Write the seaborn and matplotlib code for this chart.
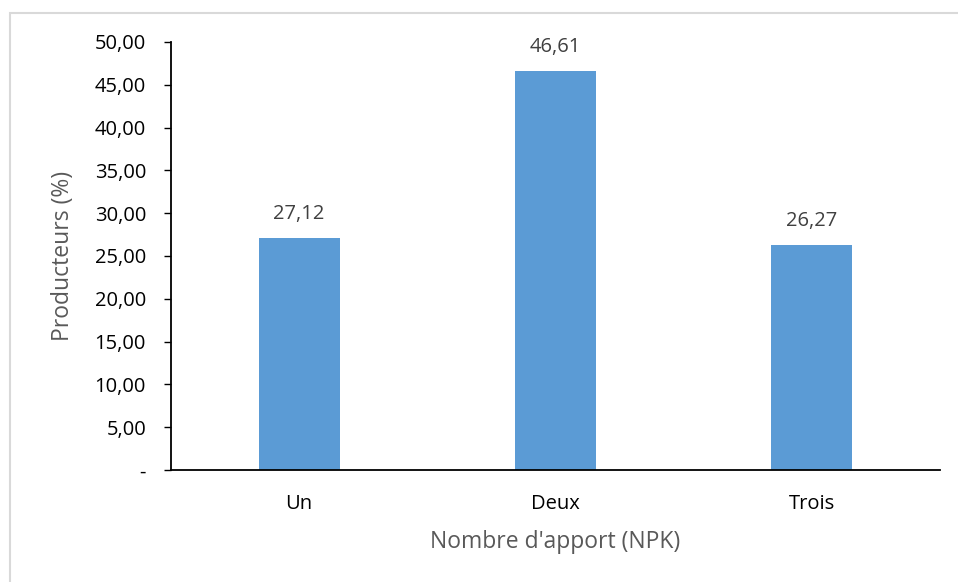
import matplotlib
matplotlib.use("Agg")
import matplotlib.pyplot as plt
import seaborn as sns
import pandas as pd
from matplotlib.patches import Rectangle
from matplotlib.ticker import FuncFormatter

categories = ["Un", "Deux", "Trois"]
values = [27.12, 46.61, 26.27]
yticks = [0, 5, 10, 15, 20, 25, 30, 35, 40, 45, 50]

sns.set_style("white")
plt.rcParams['font.family'] = ['Open Sans', 'DejaVu Sans']

df = pd.DataFrame({"cat": categories, "val": values})

fig = plt.figure(figsize=(9.58, 5.82), dpi=100)
ax = fig.add_axes([171/958, (582-470)/582, (940-171)/958, (470-42)/582])

sns.barplot(data=df, x="cat", y="val", color="#5B9BD5", saturation=1,
            width=0.316, ax=ax, edgecolor="none")

ax.set_xlim(-0.5, 2.5)
ax.set_ylim(0, 50)
ax.set_yticks(yticks)

def fmt(v, pos):
    if abs(v) < 1e-9:
        return "-"
    return f"{v:.2f}".replace(".", ",")

ax.yaxis.set_major_formatter(FuncFormatter(fmt))
ax.tick_params(axis="y", which="major", length=5, width=1, color="black",
               labelsize=14.5, labelcolor="black", pad=13, direction="out", left=True)
ax.tick_params(axis="x", length=0, labelsize=14.5, labelcolor="black", pad=17)

for s in ["top", "right"]:
    ax.spines[s].set_visible(False)
for s in ["left", "bottom"]:
    ax.spines[s].set_color("black")
    ax.spines[s].set_linewidth(1.3)

ax.set_xlabel("Nombre d'apport (NPK)", fontsize=16.5, color="#595959", labelpad=12)
ax.set_ylabel("Producteurs (%)", fontsize=16.5, color="#595959", labelpad=14)

for i, v in enumerate(values):
    ax.annotate(f"{v:.2f}".replace(".", ","), (i, v), xytext=(0, 10),
                textcoords="offset points", ha="center", va="bottom",
                fontsize=14.5, color="#404040")

fig.patches.append(Rectangle((9.5/958, -0.05), 1.2, (582-12.5)/582 + 0.05,
                             transform=fig.transFigure, fill=False,
                             edgecolor="#D9D9D9", linewidth=1.5))

fig.savefig("out.png", dpi=100, facecolor="white")
